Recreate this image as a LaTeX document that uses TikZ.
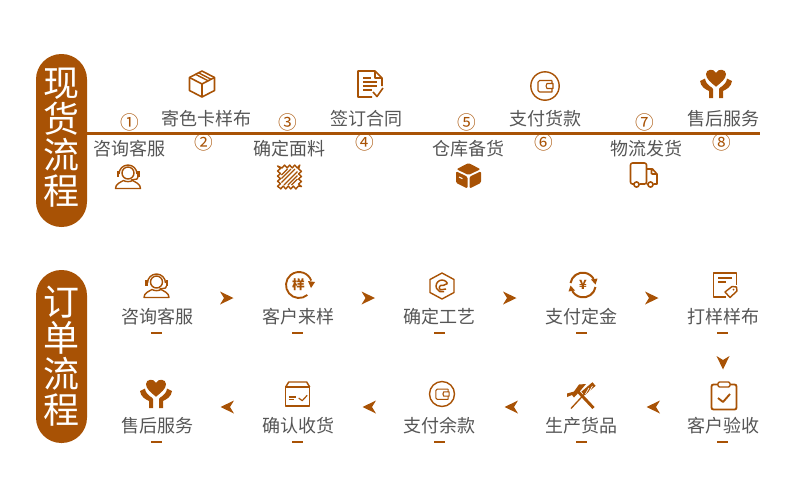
\documentclass[tikz,border=0pt]{standalone}
\usepackage{fontspec}
\setmainfont{Noto Sans CJK SC}
\usetikzlibrary{decorations.pathmorphing}
\definecolor{brand}{HTML}{A85205}
\definecolor{ink}{HTML}{555555}
\tikzset{
  lbl/.style={font=\fontsize{13.5pt}{15pt}\selectfont,text=ink,inner sep=0pt,xshift=.5pt,yshift=-.6pt},
  num/.style={font=\fontsize{14pt}{15pt}\selectfont,text=brand,inner sep=0pt,xshift=.4pt,yshift=-.2pt},
  pill/.style={fill=brand,rounded corners=19pt,minimum width=38.25pt,minimum height=129.75pt,inner sep=0pt},
  title/.style={text=white,inner sep=0pt,align=center,font=\fontsize{27pt}{27pt}\selectfont},
  tick/.style={fill=brand,minimum width=8.25pt,minimum height=1.6pt,inner sep=0pt},
  ic/.style={draw=brand,line width=1.05pt,line join=round},
  icf/.style={fill=brand},
}
\newcommand{\place}[3][1]{\begin{scope}[shift={#2},scale=#1]#3\end{scope}}
\newcommand{\tipR}[1]{\begin{scope}[shift={#1}]\fill[brand] (-7,6.5)--(6.5,0)--(-7,-6.5)--(-3,0)--cycle;\end{scope}}
\newcommand{\tipL}[1]{\begin{scope}[shift={#1}]\fill[brand] (7,6.5)--(-6.5,0)--(7,-6.5)--(3,0)--cycle;\end{scope}}
\newcommand{\tipD}[1]{\begin{scope}[shift={#1}]\fill[brand] (-6.5,7)--(0,-6.5)--(6.5,7)--(0,3)--cycle;\end{scope}}
\newcommand{\iconAgent}{%
  \draw[ic] (0,3) circle (6);
  \draw[ic] (-9,2) arc (180:0:9);
  \fill[brand] (-11.5,-1) rectangle (-9,5);
  \fill[brand] (9,-1) rectangle (11.5,5);
  \draw[ic] (10,-1) -- (9,-3) -- (3,-4);
  \draw[ic] (-12.5,-12.5) .. controls (-12.5,-8) and (-8,-6.5) .. (-4.5,-4.5) .. controls (-2,-6) and (2,-6) .. (4.5,-4.5) .. controls (8,-6.5) and (12.5,-8) .. (12.5,-12.5) -- cycle;
}
\newcommand{\iconBox}{%
  \draw[ic,line width=1.2pt] (0,13)--(12.5,6.5)--(12.5,-6.5)--(0,-13)--(-12.5,-6.5)--(-12.5,6.5)--cycle;
  \draw[ic,line width=1.2pt] (-12.5,6.5)--(0,0)--(12.5,6.5) (0,0)--(0,-13);
  \draw[ic] (-6.5,9.7)--(6,3.3) (-3.5,11.2)--(9,4.8);
}
\newcommand{\iconDoc}{%
  \draw[ic,line width=1.2pt] (2,-13)--(-12,-13)--(-12,13)--(5,13)--(12,6)--(12,-2);
  \draw[ic] (5,13)--(5,6)--(12,6);
  \draw[ic] (-7,6)--(1,6) (-7,2)--(7,2) (-7,-2)--(7,-2) (-7,-6)--(2,-6);
  \draw[ic,line width=1.2pt] (3,-8)--(7,-12.5)--(13,-4);
}
\newcommand{\iconFabric}{%
  \draw[ic,decorate,decoration={zigzag,segment length=3.8pt,amplitude=1.1pt}] (-10.5,-10.5) rectangle (10.5,10.5);
  \foreach \d in {-10,-6.5,-2.5,2.5,6.5,10} {\draw[brand,line width=1pt] ({max(-8,-8+\d)},{max(-8,-8-\d)}) -- ({min(8,8+\d)},{min(8,8-\d)});}
}
\newcommand{\iconCube}{%
  \fill[brand,rounded corners=1pt] (0,12.5)--(12,6.3)--(0,0.5)--(-12,6.3)--cycle;
  \fill[brand,rounded corners=1pt] (-12.5,4.3)--(-1,-1.3)--(-1,-13)--(-12.5,-7.3)--cycle;
  \fill[brand,rounded corners=1pt] (12.5,4.3)--(1,-1.3)--(1,-13)--(12.5,-7.3)--cycle;
  \draw[white,line width=.8pt] (-9.5,-1.5)--(-6,-3.2);
}
\newcommand{\iconWallet}{%
  \draw[ic] (0,0) circle (14.2);
  \draw[ic,line width=.8pt] (7,5.5)--(-5.5,5.5)--(-7,4)--(-7,-4.5)--(-5.5,-6)--(7,-6)--(7,-2.5);
  \draw[ic,line width=.8pt] (7,5.5)--(7,2.5) (8,2.5)--(2,2.5)--(1,0)--(2,-2.5)--(8,-2.5)--cycle;
}
\newcommand{\iconTruck}{%
  \draw[ic,line width=1.2pt,rounded corners=1.5pt] (-9.5,-9)--(-13,-9)--(-13,12)--(3,12)--(3,-9)--(-4,-9);
  \draw[ic,line width=1.2pt] (3,6)--(9,6)--(13.5,1)--(13.5,-9)--(10,-9) (4,-9)--(3,-9) (8,1)--(13.5,1) (8,6)--(8,1);
  \draw[ic,line width=1.2pt,fill=white] (-7,-9.5) circle (2.6);
  \draw[ic,line width=1.2pt,fill=white] (7,-9.5) circle (2.6);
}
\newcommand{\iconHeart}{%
  \fill[brand] (0,-2.7) .. controls (-5,1.5) and (-10,5) .. (-10,10) .. controls (-10,15) and (-2,16) .. (0,11) .. controls (2,16) and (10,15) .. (10,10) .. controls (10,5) and (5,1.5) .. (0,-2.7) -- cycle;
  \fill[brand] (-16,3) .. controls (-15,-3) and (-11,-5) .. (-7,-7) -- (-7,-14) -- (-3,-14) -- (-3,-5) .. controls (-3,-3) and (-10,-2) .. (-11,5.5) -- cycle;
  \fill[brand] (16,3) .. controls (15,-3) and (11,-5) .. (7,-7) -- (7,-14) -- (3,-14) -- (3,-5) .. controls (3,-3) and (10,-2) .. (11,5.5) -- cycle;
}
\newcommand{\iconSample}{%
  \draw[ic,line width=1.4pt] (-50:13) arc (-50:-340:13);
  \fill[brand] (9,4)--(16,3)--(12,-3)--cycle;
  \node[inner sep=0pt,text=brand,font=\fontsize{9.5pt}{10pt}\selectfont\bfseries] at (-.5,.3) {样};
}
\newcommand{\iconHex}{%
  \draw[ic] (0,13)--(12,6.5)--(12,-6.5)--(0,-13)--(-12,-6.5)--(-12,6.5)--cycle;
  \draw[ic,line width=1.1pt] (5.5,2.5) arc (25:290:6);
  \draw[ic,line width=1.1pt] (5.5,2.5)--(1,.5) arc (60:240:2.5) -- (4,-3);
}
\newcommand{\iconYen}{%
  \draw[ic,line width=1.5pt] (-12.5,2) arc (170:30:12.5);
  \draw[ic,line width=1.5pt] (12.5,-2) arc (-10:-150:12.5);
  \fill[brand] (8,5.5)--(14.5,6.5)--(12.5,.5)--cycle;
  \fill[brand] (-8,-5.5)--(-14.5,-6.5)--(-12.5,-.5)--cycle;
  \node[inner sep=0pt,text=brand,font=\fontsize{9.5pt}{10pt}\selectfont\bfseries] at (0,0) {¥};
}
\newcommand{\iconTag}{%
  \draw[ic,line width=1.3pt] (1,-12)--(-11.5,-12)--(-11.5,12)--(11.5,12)--(11.5,0);
  \draw[brand,line width=1pt] (-7,7)--(7,7) (-7,3)--(1,3);
  \draw[ic,fill=white] (11.5,-2)--(12,-6)--(5,-12.5)--(0,-7)--(7,-1.5)--cycle;
  \fill[brand] (8.5,-4.5) circle (1);
}
\newcommand{\iconClip}{%
  \draw[ic,line width=1.4pt,rounded corners=1.5pt] (-12.5,-13.5) rectangle (12.5,11.5);
  \draw[ic,fill=white,rounded corners=1pt] (-6,9) rectangle (6,14);
  \draw[ic,line width=1.4pt] (-6,-2)--(-1,-6)--(6,2);
}
\newcommand{\iconTools}{%
  \draw[brand,line width=2.2pt] (-3,5)--(12.5,-11.5);
  \fill[brand] (-14,-.5)--(-14,3)--(-7,5)--(-2,12)--(5,12.5)--(-.5,6)--(-7,-1)--(-9,1.5)--cycle;
  \draw[brand,line width=1pt] (-10,-12)--(3,2);
  \draw[brand,line width=3.6pt] (2,3)--(13,12.5);
  \draw[white,line width=.5pt] (4.5,2.7)--(8,8.5) (8,4.5)--(11.5,10.5);
}
\newcommand{\iconReceipt}{%
  \draw[ic,line width=1.1pt] (-12,7)--(-9,12)--(9,12)--(12,7);
  \draw[ic,line width=1.1pt] (-12,-12) rectangle (12,7);
  \draw[ic,line width=.8pt] (-9,-3)--(-2,-3) (-9,-5.7)--(-4,-5.7);
  \draw[ic,line width=.9pt] (1,-4)--(4.5,-6.7)--(9.5,-1.3);
}
\begin{document}
\begin{tikzpicture}[x=.75pt,y=.75pt]
\useasboundingbox (0,0) rectangle (790,-480);
\coordinate (railstart) at (86,-133);
\coordinate (railend) at (760,-133);
\draw[brand,line width=2.25pt] (railstart) -- (railend);
\node[pill] (pilltop) at (61.5,-140.5) {};
\node[title] (titletop) at (61,-138) {现\\货\\流\\程};
\node[pill] (pillbottom) at (61.5,-356.5) {};
\node[title] (titlebottom) at (61,-356) {订\\单\\流\\程};
% top labels
\node[lbl] (t1) at (128.5,-148) {咨询客服};
\node[lbl] (t2) at (205.5,-118) {寄色卡样布};
\node[lbl] (t3) at (289,-148) {确定面料};
\node[lbl] (t4) at (366,-118) {签订合同};
\node[lbl] (t5) at (468,-148) {仓库备货};
\node[lbl] (t6) at (545,-118) {支付货款};
\node[lbl] (t7) at (646,-148) {物流发货};
\node[lbl] (t8) at (723,-118) {售后服务};
\node[num] (n1) at (129.5,-122) {①};
\node[num] (n2) at (203.5,-142) {②};
\node[num] (n3) at (287,-122) {③};
\node[num] (n4) at (364,-142) {④};
\node[num] (n5) at (466,-122) {⑤};
\node[num] (n6) at (543,-142) {⑥};
\node[num] (n7) at (644,-122) {⑦};
\node[num] (n8) at (721,-142) {⑧};
\place{(128,-176)}{\iconAgent}
\place{(202,-84)}{\iconBox}
\place{(370,-84)}{\iconDoc}
\place{(289.5,-177)}{\iconFabric}
\place{(468.5,-175.5)}{\iconCube}
\place{(545,-86)}{\iconWallet}
\place{(643.5,-175)}{\iconTruck}
\place{(716,-84)}{\iconHeart}
% bottom grid
\node[lbl] (b1) at (156.5,-316) {咨询客服};
\node[lbl] (b2) at (297.5,-316) {客户来样};
\node[lbl] (b3) at (439,-316) {确定工艺};
\node[lbl] (b4) at (581,-316) {支付定金};
\node[lbl] (b5) at (722.5,-316) {打样样布};
\node[lbl] (b6) at (722.5,-425) {客户验收};
\node[lbl] (b7) at (581,-425) {生产货品};
\node[lbl] (b8) at (439,-425) {支付余款};
\node[lbl] (b9) at (297.5,-425) {确认收货};
\node[lbl] (b10) at (156.5,-425) {售后服务};
\foreach \n/\x/\y in {d1/156.5/333,d2/297.5/333,d3/439.5/333,d4/581.5/333,d5/722.5/333,d6/722.5/442,d7/581.5/442,d8/439.5/442,d9/297.5/442,d10/156.5/442}
  \node[tick] (\n) at (\x,-\y) {};
\place{(156.5,-285)}{\iconAgent}
\place{(299,-285)}{\iconSample}
\place{(442,-286)}{\iconHex}
\place{(583,-285)}{\iconYen}
\place{(725,-285)}{\iconTag}
\place{(724,-396)}{\iconClip}
\place{(581,-396.5)}{\iconTools}
\place[.88]{(442,-394)}{\iconWallet}
\place{(297.7,-394)}{\iconReceipt}
\place{(156,-394)}{\iconHeart}
\tipR{(227,-298)}
\tipR{(368.5,-298)}
\tipR{(510,-298)}
\tipR{(652,-298)}
\tipD{(723,-363)}
\tipL{(653,-407)}
\tipL{(511,-407)}
\tipL{(369,-407)}
\tipL{(227,-407)}
\end{tikzpicture}
\end{document}
